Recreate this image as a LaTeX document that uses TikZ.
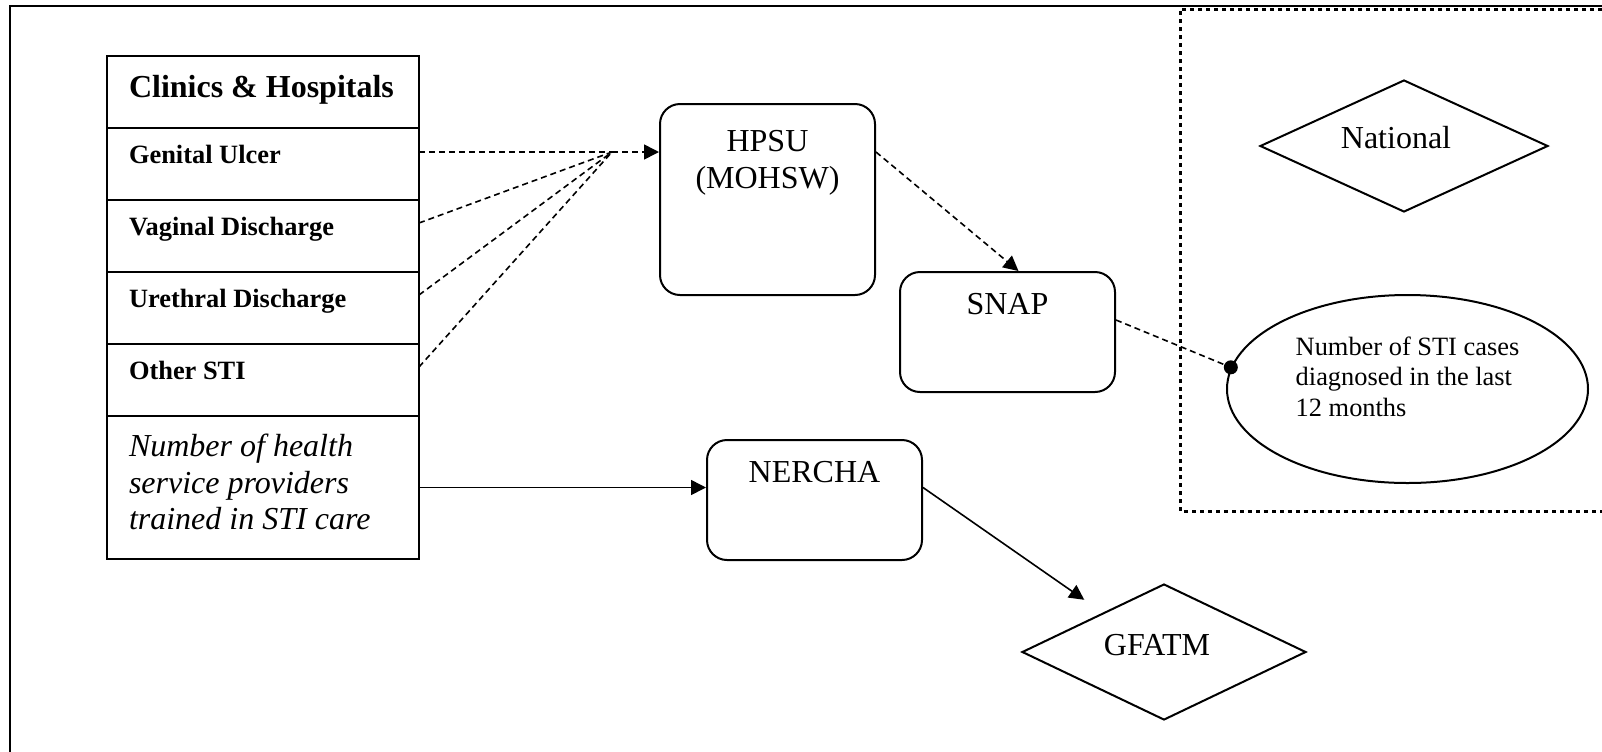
\documentclass[tikz,border=0pt]{standalone}
\usepackage{fontspec}
\setmainfont{Liberation Serif}
\usetikzlibrary{positioning, shapes.geometric, arrows.meta}

\begin{document}
\begin{tikzpicture}[x=0.5pt, y=-0.5pt, line width=1pt,
        every node/.style={font=\fontsize{16}{18.5}\selectfont},
        cell/.style={draw, rectangle, minimum width=156pt, minimum height=36pt, inner sep=0pt, outer sep=0pt},
        rowlab/.style={label={[anchor=base west, inner sep=0pt, xshift=10.5pt, yshift=-17.5pt, font=\fontsize{13.2}{15}\selectfont\bfseries]north west:#1}},
        office/.style={draw, rectangle, rounded corners=10pt, minimum width=107.5pt, minimum height=60pt, inner sep=0pt},
        flag/.style={draw, diamond, inner sep=0pt},
        dashln/.style={line width=0.8pt, dash pattern=on 3pt off 2pt},
        dotln/.style={line width=1.5pt, dash pattern=on 2pt off 2pt},
        arr/.style={line width=0.8pt, -{Triangle[length=7.5pt, width=7.5pt]}}]
        \useasboundingbox (0,0) rectangle (1602,751);

        % frame and national level
        \draw (1610,6) -- (10,6) -- (10,760);
        \draw[dotln] (1610,9) -- (1180,9) -- (1180,511) -- (1610,511);

        % clinics table
        \node[cell, anchor=north west, label={[anchor=base west, inner sep=0pt, xshift=10.5pt, yshift=-20.5pt, font=\fontsize{16}{18.5}\selectfont\bfseries]north west:Clinics \& Hospitals}] (clinics) at (107,56) {};
        \node[cell, below=0pt of clinics, rowlab=Genital Ulcer] (genital) {};
        \node[cell, below=0pt of genital, rowlab=Vaginal Discharge] (vaginal) {};
        \node[cell, below=0pt of vaginal, rowlab=Urethral Discharge] (urethral) {};
        \node[cell, below=0pt of urethral, rowlab=Other STI] (other) {};
        \node[cell, below=0pt of other, minimum height=71.5pt, label={[anchor=north west, align=left, inner sep=0pt, xshift=10.5pt, yshift=-8.5pt, font=\fontsize{16}{18.3}\selectfont\itshape]north west:Number of health\\service providers\\trained in STI care}] (trained) {};

        % offices
        \node[office, minimum height=95.5pt, label={[anchor=north, align=center, inner sep=0pt, yshift=-13pt]north:HPSU\\(MOHSW)}] (hpsu) at (767.5,199.5) {};
        \node[office, label={[anchor=base, inner sep=0pt, yshift=-21.5pt]north:SNAP}] (snap) at (1007.5,332) {};
        \node[office, label={[anchor=base, inner sep=0pt, yshift=-21.5pt]north:NERCHA}] (nercha) at (814.5,500) {};
        \node[flag, minimum width=142pt, minimum height=68pt, label={[inner sep=0pt, xshift=-3.5pt, yshift=3.5pt]center:GFATM}] (gfatm) at (1164,652) {};
        \node[flag, minimum width=144pt, minimum height=66pt, label={[inner sep=0pt, xshift=-4pt, yshift=4pt]center:National}] (national) at (1404,146) {};
        \node[draw, ellipse, minimum width=180.5pt, minimum height=94pt, label={[align=left, inner sep=0pt, yshift=6.25pt, font=\fontsize{13.2}{15.2}\selectfont]center:Number of STI cases\\diagnosed in the last\\12 months}] (cases) at (1407.5,389) {};

        % reporting lines
        \coordinate (hub) at (612,152);
        \draw[dashln] ([yshift=6pt]genital.east) -- (hub);
        \draw[dashln] ([yshift=6.5pt]vaginal.east) -- (hub);
        \draw[dashln] ([yshift=6.5pt]urethral.east) -- (hub);
        \draw[dashln] ([yshift=6.5pt]other.east) -- (hub);
        \draw[dashln, arr] (hub) -- (hpsu.west |- hub);
        \draw[dashln, arr] (hpsu.east |- hub) -- ([xshift=5.5pt]snap.north);
        \draw[dashln] ([yshift=6pt]snap.east) -- (cases.173);
        \fill (cases.173) circle (3.5pt);
        \draw[arr] (trained.east) -- (nercha.west |- trained.east);
        \draw[arr, shorten >=5pt] (nercha.east |- trained.east) -- ([yshift=6pt]gfatm.north west);
\end{tikzpicture}
\end{document}
